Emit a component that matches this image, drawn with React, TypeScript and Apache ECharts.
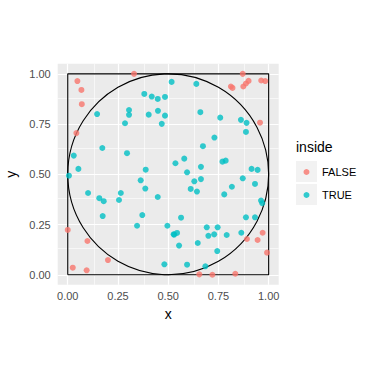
import React, { useEffect, useRef } from "react";
import * as echarts from "echarts";

const falseX = [0.33, 0.048, 0.068, 0.07, 0.043, 0.871, 0.812, 0.82, 0.874, 0.887, 0.9, 0.963, 0.983, 0.957, 0.0, 0.098, 0.2, 0.025, 0.094, 0.892, 0.945, 0.97, 0.992, 0.655, 0.72, 0.834];
const falseY = [1.0, 0.964, 0.92, 0.849, 0.705, 1.0, 0.937, 0.93, 0.937, 0.952, 0.965, 0.967, 0.964, 0.757, 0.223, 0.168, 0.073, 0.035, 0.022, 0.178, 0.173, 0.209, 0.11, 0.002, 0.0, 0.005];

const trueX = [0.517, 0.381, 0.418, 0.448, 0.484, 0.146, 0.305, 0.305, 0.403, 0.449, 0.484, 0.285, 0.468, 0.172, 0.295, 0.03, 0.053, 0.388, 0.006, 0.363, 0.536,
  0.64, 0.66, 0.759, 0.862, 0.89, 0.887, 0.73, 0.673, 0.58, 0.77, 0.786, 0.663, 0.594, 0.915, 0.945, 0.871,
  0.101, 0.157, 0.179, 0.264, 0.255, 0.174, 0.386, 0.448, 0.371, 0.345, 0.496, 0.527, 0.481,
  0.63, 0.663, 0.612, 0.643, 0.932, 0.817, 0.779, 0.962, 0.968, 0.564, 0.53, 0.544, 0.554, 0.692, 0.746, 0.7, 0.729, 0.791, 0.864, 0.887, 0.932, 0.647, 0.744, 0.594, 0.685];
const trueY = [0.96, 0.9, 0.887, 0.875, 0.885, 0.8, 0.82, 0.796, 0.797, 0.816, 0.792, 0.754, 0.751, 0.631, 0.605, 0.593, 0.527, 0.523, 0.493, 0.47, 0.555,
  0.95, 0.809, 0.782, 0.771, 0.756, 0.711, 0.683, 0.64, 0.578, 0.563, 0.568, 0.537, 0.51, 0.527, 0.522, 0.48,
  0.407, 0.381, 0.366, 0.407, 0.372, 0.292, 0.429, 0.387, 0.297, 0.244, 0.244, 0.201, 0.052,
  0.465, 0.476, 0.427, 0.414, 0.452, 0.438, 0.4, 0.369, 0.356, 0.284, 0.2, 0.208, 0.145, 0.236, 0.236, 0.194, 0.201, 0.198, 0.209, 0.286, 0.286, 0.158, 0.118, 0.05, 0.042];

const squareX = [0, 1, 1, 0, 0];
const squareY = [0, 0, 1, 1, 0];
const circleCenter = [0.5, 0.5];
const circleRadius = 0.5;

const majorBreaks = [0, 0.25, 0.5, 0.75, 1];
const minorBreaks = [0.125, 0.375, 0.625, 0.875];
const tickLabels = ["0.00", "0.25", "0.50", "0.75", "1.00"];

const FONT = "Liberation Sans, Arial, sans-serif";

export default function App() {
  const ref = useRef<HTMLDivElement>(null);
  useEffect(() => {
    if (!ref.current) return;
    const chart = echarts.init(ref.current, null, { renderer: "svg" });
    const fmt = (v: number) => {
      const i = majorBreaks.findIndex((b) => Math.abs(b - v) < 1e-9);
      return i >= 0 ? tickLabels[i] : "";
    };
    const axisCommon = {
      type: "value",
      min: -0.05,
      max: 1.05,
      axisLine: { show: false },
      axisTick: { show: true, length: 4, customValues: majorBreaks, lineStyle: { color: "#333333", width: 1 } },
      axisLabel: { customValues: majorBreaks, formatter: fmt, color: "#4D4D4D", fontSize: 11, fontFamily: FONT, margin: 7 },
      splitLine: { show: false },
      nameLocation: "middle",
      nameTextStyle: { color: "#000", fontSize: 14, fontFamily: FONT },
    };
    const gridLines = (w: number, vals: number[]) =>
      vals.flatMap((v) => [
        { xAxis: v, lineStyle: { color: "#FFFFFF", width: w, type: "solid" } },
        { yAxis: v, lineStyle: { color: "#FFFFFF", width: w, type: "solid" } },
      ]);
    chart.setOption({
      animation: false,
      backgroundColor: "#FFFFFF",
      grid: {
        left: 57.7,
        top: 63.8,
        width: 221,
        height: 221,
        show: true,
        backgroundColor: "#EBEBEB",
        borderWidth: 0,
        containLabel: false,
        outerBoundsMode: "none",
      },
      xAxis: { ...axisCommon, name: "x", nameGap: 18, axisLabel: { ...axisCommon.axisLabel, margin: 6 } },
      yAxis: { ...axisCommon, name: "y", nameGap: 35, nameRotate: 90 },
      legend: {
        orient: "vertical",
        left: 303.5,
        top: 166,
        padding: 0,
        itemWidth: 6,
        itemHeight: 6,
        itemGap: 11,
        icon: "circle",
        data: ["FALSE", "TRUE"],
        textStyle: { fontSize: 11, color: "#000", fontFamily: FONT, lineHeight: 12, padding: [0, 0, 0, 7.5] },
      },
      graphic: [
        { type: "text", left: 296, top: 140, style: { text: "inside", fontSize: 14, fontFamily: FONT, fill: "#000" } },
        { type: "rect", shape: { x: 296, y: 161, width: 21, height: 21 }, style: { fill: "#F2F2F2" }, z: -1 },
        { type: "rect", shape: { x: 296, y: 184, width: 21, height: 21 }, style: { fill: "#F2F2F2" }, z: -1 },
      ],
      series: [
        {
          type: "scatter",
          data: [],
          z: 1,
          silent: true,
          markLine: {
            z: 1,
            silent: true,
            symbol: "none",
            label: { show: false },
            animation: false,
            data: [...gridLines(0.6, minorBreaks), ...gridLines(1.2, majorBreaks)],
          },
        },
        {
          type: "line",
          data: squareX.map((x, i) => [x, squareY[i]]),
          symbol: "none",
          lineStyle: { color: "#000", width: 1.1 },
          z: 3,
          silent: true,
        },
        {
          type: "custom",
          data: [[circleCenter[0], circleCenter[1], circleRadius]],
          z: 3,
          silent: true,
          renderItem: (_params: any, api: any) => {
            const c = api.coord([api.value(0), api.value(1)]);
            const s = api.size([api.value(2), api.value(2)]);
            return {
              type: "circle",
              shape: { cx: c[0], cy: c[1], r: (s[0] + s[1]) / 2 },
              style: { fill: "none", stroke: "#000", lineWidth: 1.1 },
            };
          },
        },
        {
          name: "FALSE",
          type: "scatter",
          data: falseX.map((x, i) => [x, falseY[i]]),
          symbolSize: 6,
          itemStyle: { color: "#F8766D" },
          z: 5,
        },
        {
          name: "TRUE",
          type: "scatter",
          data: trueX.map((x, i) => [x, trueY[i]]),
          symbolSize: 6,
          itemStyle: { color: "#00BFC4" },
          z: 5,
        },
      ],
    });
    return () => chart.dispose();
  }, []);
  return <div ref={ref} style={{ position: "fixed", left: 0, top: 0, width: 384, height: 384 }} />;
}
